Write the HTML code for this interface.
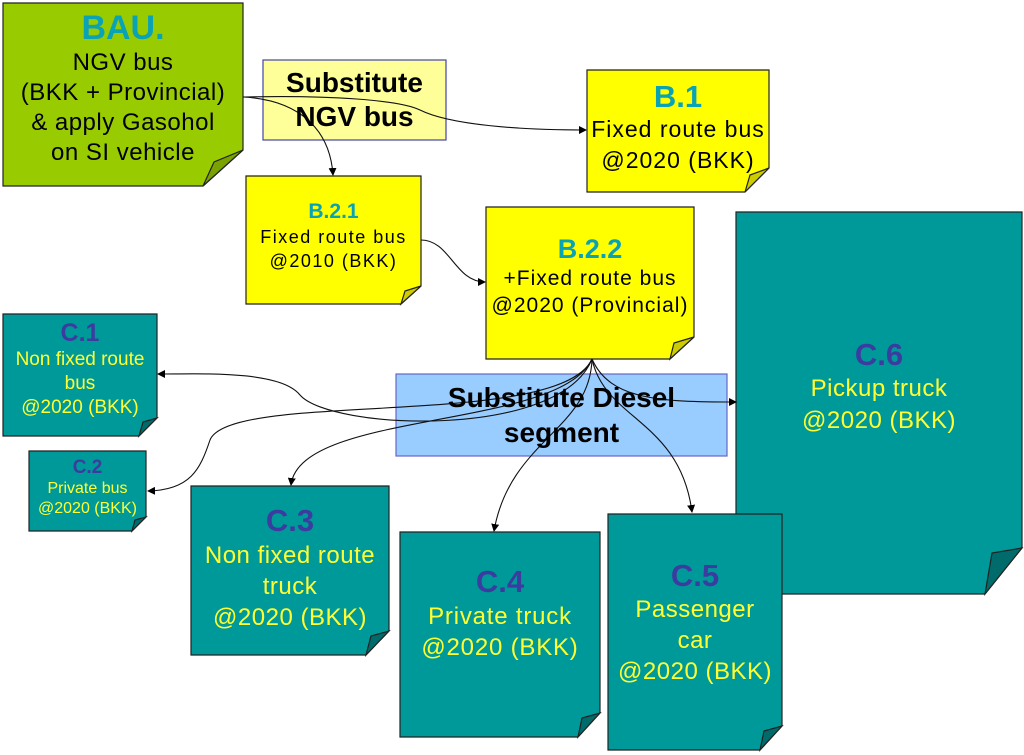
<!DOCTYPE html>
<html><head><meta charset="utf-8"><style>
body{margin:0;width:1024px;height:755px;background:#fff;position:relative;overflow:hidden;font-family:"Liberation Sans",sans-serif}
svg{position:absolute;left:0;top:0}
.t{position:absolute;text-align:center;white-space:nowrap}
.b{font-weight:bold}
.tl{color:#0aa3b5;font-weight:bold;letter-spacing:0}
.pu{color:#3b3ba0;font-weight:bold;letter-spacing:0}
.y{color:#ffff33}
</style></head><body>
<svg width="1024" height="755" viewBox="0 0 1024 755">
<defs><marker id="a" markerWidth="8" markerHeight="8" refX="7" refY="4" orient="auto" markerUnits="userSpaceOnUse"><path d="M0,0 L8,4 L0,8 z" fill="#000"/></marker></defs>
<g stroke="#222" stroke-width="1.2">
<polygon points="3,3 243,3 243,150 203,186 3,186" fill="#99cc00"/>
<polygon points="243,150 203,186 214,162" fill="#7aa300"/>
<rect x="263" y="60" width="183" height="80" fill="#ffff99" stroke="#4444aa"/>
<polygon points="587,70 769,70 769,168 745,192 587,192" fill="#ffff00"/>
<polygon points="769,168 745,192 750,175" fill="#cccc00"/>
<polygon points="246,176 421,176 421,286 401,304 246,304" fill="#ffff00"/>
<polygon points="421,286 401,304 405,291" fill="#cccc00"/>
<polygon points="486,207 694,207 694,337 670,359 486,359" fill="#ffff00"/>
<polygon points="694,337 670,359 674,343" fill="#cccc00"/>
<polygon points="736,212 1022,212 1022,548 985,594 736,594" fill="#009999"/>
<polygon points="1022,548 985,594 992,553" fill="#006b6b"/>
<polygon points="3,314 157,314 157,418 139,436 3,436" fill="#009999"/>
<polygon points="157,418 139,436 143,422" fill="#006b6b"/>
<polygon points="29,451 146,451 146,517 132,531 29,531" fill="#009999"/>
<polygon points="146,517 132,531 135,520" fill="#006b6b"/>
<rect x="396" y="374" width="331" height="82" fill="#99ccff" stroke="#6666cc"/>
<polygon points="191,486 389,486 389,631 366,655 191,655" fill="#009999"/>
<polygon points="389,631 366,655 371,636" fill="#006b6b"/>
<polygon points="400,532 600,532 600,713 578,737 400,737" fill="#009999"/>
<polygon points="600,713 578,737 582,718" fill="#006b6b"/>
<polygon points="608,514 782,514 782,726 760,750 608,750" fill="#009999"/>
<polygon points="782,726 760,750 764,731" fill="#006b6b"/>
</g>
<g fill="none" stroke="#111" stroke-width="1.1" marker-end="url(#a)">
<path d="M243,97 C330,95 400,100 420,110 C450,125 520,130 586,130"/>
<path d="M243,97 C300,100 330,130 333,175"/>
<path d="M421,240 C450,240 455,282 485,282"/>
<path d="M592,359 C610,400 660,402 736,402"/>
<path d="M592,359 C605,420 680,420 692,512"/>
<path d="M592,359 C590,430 510,440 494,531"/>
<path d="M592,359 C560,430 300,410 291,485"/>
<path d="M592,359 C560,440 330,430 300,395 C280,370 200,374 158,374"/>
<path d="M592,359 C560,430 230,390 210,440 C200,470 190,490 148,491"/>
</g>
</svg>
<div class="t" style="left:3px;top:8px;width:240px;font-size:24px;letter-spacing:0.5px;line-height:30px"><div class="tl" style="font-size:34px;line-height:40px">BAU.</div>NGV bus<br>(BKK + Provincial)<br>&amp; apply Gasohol<br>on SI vehicle</div>
<div class="t b" style="left:263px;top:66px;width:183px;font-size:28px;line-height:34px">Substitute<br>NGV bus</div>
<div class="t" style="left:587px;top:80px;width:182px;font-size:23px;letter-spacing:1px;line-height:31px"><div class="tl" style="font-size:31px;line-height:34px">B.1</div>Fixed route bus<br>@2020 (BKK)</div>
<div class="t" style="left:246px;top:199px;width:175px;font-size:18px;letter-spacing:1.5px;line-height:24px"><div class="tl" style="font-size:21px;line-height:26px">B.2.1</div>Fixed route bus<br>@2010 (BKK)</div>
<div class="t" style="left:486px;top:233px;width:208px;font-size:21px;letter-spacing:1px;line-height:27px"><div class="tl" style="font-size:27px;line-height:32px">B.2.2</div>+Fixed route bus<br>@2020 (Provincial)</div>
<div class="t" style="left:736px;top:337px;width:286px;font-size:24px;letter-spacing:0.5px;line-height:32px"><div class="pu" style="font-size:31px;line-height:36px">C.6</div><span class="y">Pickup truck<br>@2020 (BKK)</span></div>
<div class="t" style="left:3px;top:318px;width:154px;font-size:19px;line-height:24px"><div class="pu" style="font-size:25px;line-height:30px">C.1</div><span class="y">Non fixed route<br>bus<br>@2020 (BKK)</span></div>
<div class="t" style="left:29px;top:457px;width:117px;font-size:16px;line-height:20px"><div class="pu" style="font-size:19px;line-height:22px">C.2</div><span class="y">Private bus<br>@2020 (BKK)</span></div>
<div class="t b" style="left:396px;top:380px;width:331px;font-size:28px;line-height:35px">Substitute Diesel<br>segment</div>
<div class="t" style="left:191px;top:502px;width:198px;font-size:24px;letter-spacing:0.5px;line-height:31px"><div class="pu" style="font-size:31px;line-height:38px">C.3</div><span class="y">Non fixed route<br>truck<br>@2020 (BKK)</span></div>
<div class="t" style="left:400px;top:563px;width:200px;font-size:24px;letter-spacing:0.8px;line-height:31px"><div class="pu" style="font-size:31px;line-height:38px">C.4</div><span class="y">Private truck<br>@2020 (BKK)</span></div>
<div class="t" style="left:608px;top:558px;width:174px;font-size:24px;letter-spacing:0.5px;line-height:31px"><div class="pu" style="font-size:31px;line-height:36px">C.5</div><span class="y">Passenger<br>car<br>@2020 (BKK)</span></div>
</body></html>
